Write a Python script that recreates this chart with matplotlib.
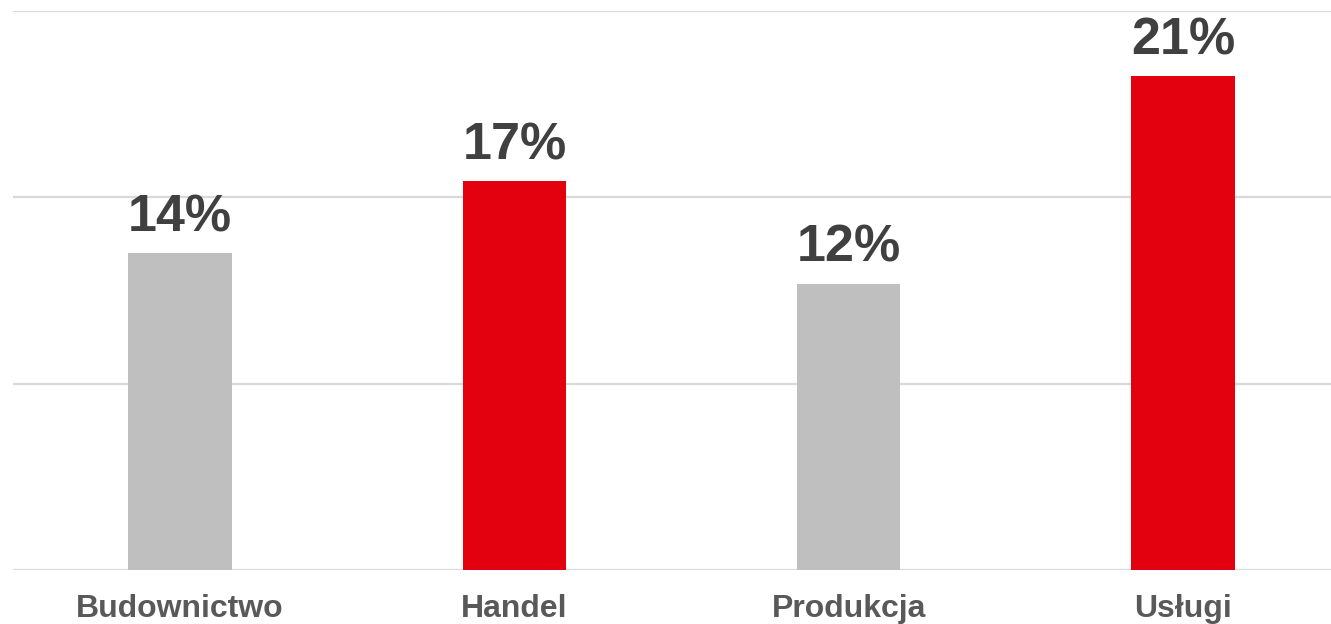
import matplotlib

matplotlib.use("Agg")
import matplotlib.pyplot as plt

# data
categories = ["Budownictwo", "Handel", "Produkcja", "Usługi"]
values = [0.136, 0.167, 0.123, 0.212]
labels = ["14%", "17%", "12%", "21%"]
colors = ["#BFBFBF", "#E3000F", "#BFBFBF", "#E3000F"]
yticks = [0, 0.08, 0.16, 0.24]

W, H, DPI = 1331, 624, 100
FONT = ["Liberation Sans", "DejaVu Sans"]
fig = plt.figure(figsize=(W / DPI, H / DPI), dpi=DPI)
# axes run a bit past the right edge, like the source
ax = fig.add_axes([13 / W, 54 / H, 1337 / W, 559 / H])

x = list(range(len(categories)))
ax.bar(x, values, width=0.31, color=colors, zorder=2)
ax.set_xlim(-0.5, len(categories) - 0.5)
ax.set_ylim(0, 0.24)
ax.set_yticks(yticks)
ax.yaxis.grid(True, color="#D9D9D9", linewidth=1.6, zorder=0)
ax.set_xticks([])
ax.tick_params(left=False, bottom=False, labelleft=False)
for s in ax.spines.values():
    s.set_visible(False)

# category names under the baseline
for i, c in enumerate(categories):
    ax.annotate(c, (i, 0), xycoords=("data", "axes fraction"),
                xytext=(0, -47 * 72 / DPI), textcoords="offset points",
                ha="center", va="baseline", fontsize=23, fontweight="bold",
                color="#595959", family=FONT)

# value labels above bars
for i, (v, t) in enumerate(zip(values, labels)):
    ax.annotate(t, (i, v), xytext=(0, 22 * 72 / DPI), textcoords="offset points",
                ha="center", va="baseline", fontsize=37.5, fontweight="bold",
                color="#404040", family=FONT)

fig.savefig("out.png", dpi=DPI, facecolor="white")
